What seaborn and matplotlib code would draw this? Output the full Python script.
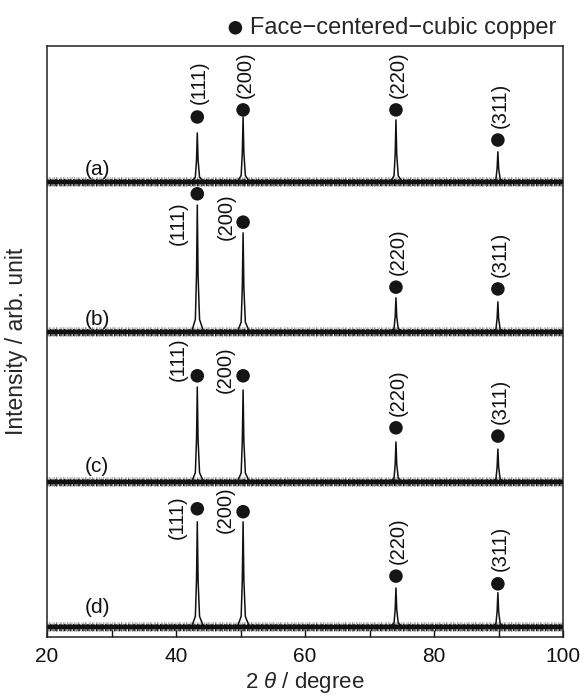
import matplotlib
matplotlib.use('Agg')
import matplotlib.pyplot as plt
from matplotlib.ticker import MultipleLocator
import pandas as pd
import seaborn as sns

# XRD patterns, stacked from top (a) to bottom (d)
patterns = ['(a)', '(b)', '(c)', '(d)']
offsets = [77.0, 51.6, 26.2, 1.7]          # baseline of each pattern (arb. unit)

# fcc copper reflections
reflections = ['(111)', '(200)', '(220)', '(311)']
peak_pos = [43.3, 50.4, 74.1, 89.9]        # 2 theta / degree

# peak heights above baseline
heights_a = [8.3, 11.0, 10.5, 5.1]
heights_b = [21.5, 16.8, 5.8, 5.1]
heights_c = [16.1, 15.6, 6.8, 5.6]
heights_d = [17.8, 17.8, 6.6, 5.8]

# height of the marker dot above baseline
dots_a = [11.0, 12.2, 12.2, 7.1]
dots_b = [23.4, 18.6, 7.6, 7.3]
dots_c = [18.0, 18.0, 9.2, 7.8]
dots_d = [20.0, 19.5, 8.6, 7.3]

# peak shape: offset from centre (deg) / fraction of height
profile_dx = [-0.9, -0.3, -0.12, 0.0, 0.12, 0.35, 1.0]
profile_frac = [0.0, 0.1, 0.45, 1.0, 0.45, 0.1, 0.0]

two_theta_range = [20, 100]

heights = [heights_a, heights_b, heights_c, heights_d]
dots = [dots_a, dots_b, dots_c, dots_d]

# build long tables
rows = []
dot_rows = []
for name, off, hs, ds in zip(patterns, offsets, heights, dots):
    rows.append((name, two_theta_range[0], off))
    for p, h, d in zip(peak_pos, hs, ds):
        for dx, fr in zip(profile_dx, profile_frac):
            rows.append((name, p + dx, off + fr * h))
        dot_rows.append((name, p, off + d))
    rows.append((name, two_theta_range[1], off))
df = pd.DataFrame(rows, columns=['pattern', 'two_theta', 'intensity'])
df_dots = pd.DataFrame(dot_rows, columns=['pattern', 'two_theta', 'intensity'])

sns.set_style('ticks')
plt.rcParams['font.family'] = ['Liberation Sans', 'DejaVu Sans']
plt.rcParams['mathtext.fontset'] = 'custom'
plt.rcParams['mathtext.it'] = 'Liberation Sans:italic'
plt.rcParams['mathtext.rm'] = 'Liberation Sans'
plt.rcParams['lines.scale_dashes'] = False

fig = plt.figure(figsize=(5.86, 6.98), dpi=100)
ax = fig.add_axes([0.0802, 0.0874, 0.8806, 0.8466])

# noisy baseline band, drawn as a texture around each baseline
for off in offsets:
    ax.plot(two_theta_range, [off, off], color='#333333', lw=7.0, alpha=0.55,
            linestyle=(0, (0.4, 0.9, 0.7, 0.5, 0.3, 1.3, 0.5, 0.6)),
            solid_capstyle='butt', zorder=1)
    ax.plot(two_theta_range, [off, off], color='#1a1a1a', lw=5.2,
            linestyle=(0.3, (0.6, 0.4, 0.3, 0.8, 0.9, 0.3)), zorder=1)
    ax.plot(two_theta_range, [off, off], color='#111111', lw=3.1,
            solid_capstyle='butt', zorder=2)

sns.lineplot(data=df, x='two_theta', y='intensity', units='pattern',
             estimator=None, sort=False, color='#111111', lw=1.1, ax=ax,
             zorder=3)

sns.scatterplot(data=df_dots, x='two_theta', y='intensity', color='#151515',
                s=95, edgecolor='none', ax=ax, zorder=4,
                label='Face\u2212centered\u2212cubic copper')

# label placement around each dot (pixels): dx, dy
above = (2, 35)
label_offsets = [
    [above, above, above, above],
    [(-19, -29), (-17, 5), above, above],
    [(-19, 17), (-18, 6), above, above],
    [(-20, -8), (-18, 2), above, above],
]
name_lift = [12, 13, 16, 19]

for i, off in enumerate(offsets):
    for j, p in enumerate(peak_pos):
        dx, dy = label_offsets[i][j]
        ax.annotate(reflections[j], xy=(p, off + dots[i][j]), xytext=(dx, dy),
                    textcoords='offset pixels', rotation=90, ha='center',
                    va='center', fontsize=14.5, color='#111111')
    ax.annotate(patterns[i], xy=(27.8, off), xytext=(0, name_lift[i]),
                textcoords='offset pixels', ha='center', va='center',
                fontsize=15, color='#111111')

ax.set_xlim(two_theta_range)
ax.set_ylim(0, 100)
ax.set_yticks([])
ax.xaxis.set_major_locator(MultipleLocator(20))
ax.xaxis.set_minor_locator(MultipleLocator(10))
ax.tick_params(axis='x', which='both', direction='in', top=False,
               labelsize=15, colors='#111111', width=1.0)
ax.tick_params(axis='x', which='major', length=5, pad=7)
ax.tick_params(axis='x', which='minor', length=5)
for s in ax.spines.values():
    s.set_linewidth(1.1)
    s.set_color('#222222')
    s.set_visible(True)

ax.set_xlabel(r'2 $\theta$ / degree', fontsize=16, labelpad=3)
ax.set_ylabel('Intensity / arb. unit', fontsize=16.5, labelpad=14)

ax.legend(loc='lower right', bbox_to_anchor=(1.0, 1.0), frameon=False,
          fontsize=17, handletextpad=0.1, borderaxespad=0.1,
          borderpad=0.2, handlelength=1.0)

fig.savefig('out.png', dpi=100)
